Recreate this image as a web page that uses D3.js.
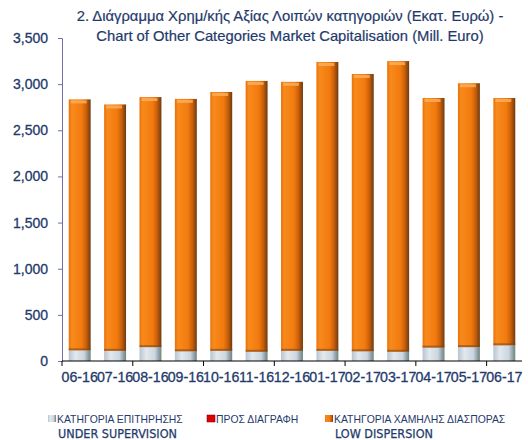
<!DOCTYPE html>
<html><head><meta charset="utf-8">
<script src="https://cdn.jsdelivr.net/npm/d3@7"></script>
<style>body{margin:0;background:#fff}svg{display:block}</style>
</head><body>
<svg id="c" width="528" height="440"></svg>
<script>
const categories = ["06-16","07-16","08-16","09-16","10-16","11-16","12-16","01-17","02-17","03-17","04-17","05-17","06-17"];
const underSupervision = [115,110,150,105,110,100,110,110,105,100,145,150,170];
const toDelete = [0,0,0,0,0,0,0,0,0,0,0,0,0];
const lowDispersion = [2720,2670,2710,2735,2805,2935,2915,3130,3005,3150,2705,2860,2680];
const yTicks = [0,500,1000,1500,2000,2500,3000,3500];
const titleLines = ["2. Διάγραμμα Χρημ/κής Αξίας Λοιπών κατηγοριών (Εκατ. Ευρώ) -","Chart of Other Categories Market Capitalisation (Mill. Euro)"];
const legendItems = [["ΚΑΤΗΓΟΡΙΑ ΕΠΙΤΗΡΗΣΗΣ","UNDER SUPERVISION"],["ΠΡΟΣ ΔΙΑΓΡΑΦΗ",""],["ΚΑΤΗΓΟΡΙΑ ΧΑΜΗΛΗΣ ΔΙΑΣΠΟΡΑΣ","LOW DISPERSION"]];

const svg = d3.select("#c");
const navy = "#1f3a6b";
const font = "Liberation Sans, Arial, sans-serif";
const narrow = "Liberation Sans Narrow, DejaVu Sans Condensed, Arial Narrow, sans-serif";
const x = d3.scaleBand().domain(categories).range([62,522]).paddingInner(0.38).paddingOuter(0.19);
const y = d3.scaleLinear().domain([0,3500]).range([361,38]);

const defs = svg.append("defs");
function grad(id, stops){
  const g = defs.append("linearGradient").attr("id",id).attr("x1","0").attr("x2","1").attr("y1","0").attr("y2","0");
  stops.forEach(s=>g.append("stop").attr("offset",s[0]).attr("stop-color",s[1]));
}
grad("gOr",[[0,"#e8720c"],[0.15,"#f88a1c"],[0.6,"#f27a0e"],[0.8,"#c85f0a"],[1,"#6e3a10"]]);
grad("gGr",[[0,"#b8c4d0"],[0.3,"#e2e8ee"],[0.7,"#ccd6de"],[0.9,"#8a9aa8"],[1,"#6e8a6a"]]);

// title
svg.append("g").selectAll("text").data(titleLines).join("text")
  .attr("x",290).attr("y",(d,i)=>21+i*20).attr("text-anchor","middle")
  .attr("font-family",font).attr("font-size",14.8).attr("fill",navy)
  .attr("stroke",navy).attr("stroke-width",0.2).text(d=>d);

// bars
const stackData = categories.map((c,i)=>({c, s:underSupervision[i], d:toDelete[i], l:lowDispersion[i]}));
const stack = d3.stack().keys(["s","d","l"])(stackData);
const fills = {s:"url(#gGr)", d:"#e00000", l:"url(#gOr)"};
const bw = x.bandwidth();
stack.forEach(layer=>{
  const g = svg.append("g");
  g.selectAll("rect").data(layer).join("rect")
    .attr("x",d=>x(d.data.c)).attr("width",bw)
    .attr("y",d=>y(d[1])).attr("height",d=>Math.max(0,y(d[0])-y(d[1])))
    .attr("fill",fills[layer.key]);
  if(layer.key==="l"){
    g.selectAll("rect.cap").data(layer).join("rect").attr("class","cap")
      .attr("x",d=>x(d.data.c)+2).attr("width",bw-6)
      .attr("y",d=>y(d[1])+1).attr("height",3).attr("fill","#fbb060").attr("opacity",0.8);
    g.selectAll("rect.sep").data(layer).join("rect").attr("class","sep")
      .attr("x",d=>x(d.data.c)).attr("width",bw)
      .attr("y",d=>y(d[0])-2).attr("height",2).attr("fill","#7a4a20").attr("opacity",0.6);
  }
});

// y axis
const ya = svg.append("g").attr("transform","translate(62,0)")
  .call(d3.axisLeft(y).tickValues(yTicks).tickSize(4).tickPadding(8).tickFormat(d3.format(",")));
ya.select(".domain").attr("stroke","#7070a8");
ya.selectAll(".tick line").attr("stroke","#7070a8");
ya.selectAll("text").attr("font-family",font).attr("font-size",14).attr("fill",navy)
  .attr("stroke",navy).attr("stroke-width",0.3).attr("dx",-2);

// x axis
const xa = svg.append("g").attr("transform","translate(0,361)")
  .call(d3.axisBottom(x).tickSize(0).tickPadding(11));
xa.select(".domain").attr("stroke","#000").attr("stroke-width",1.2).attr("d","M62,0H522");
xa.selectAll("text").attr("font-family",font).attr("font-size",14.2).attr("fill",navy)
  .attr("stroke",navy).attr("stroke-width",0.3);
const step = x.step();
svg.append("g").selectAll("line").data(d3.range(0,13,2)).join("line")
  .attr("x1",i=>62+i*step).attr("x2",i=>62+i*step).attr("y1",361).attr("y2",366)
  .attr("stroke","#000");

// legend
const legX = [48,207,325];
const legSw = ["url(#gGr)","#e00000","url(#gOr)"];
const lg = svg.append("g").selectAll("g").data(legendItems).join("g")
  .attr("transform",(d,i)=>`translate(${legX[i]},0)`);
lg.append("rect").attr("x",0).attr("y",415).attr("width",8).attr("height",7)
  .attr("fill",(d,i)=>legSw[i]).attr("stroke",(d,i)=>i===1?"#600":"none").attr("stroke-width",0.5);
lg.append("text").attr("x",9).attr("y",423).attr("font-family",font).attr("font-size",10.4).attr("fill",navy).text(d=>d[0]);
lg.append("text").attr("x",10).attr("y",438).attr("font-family",narrow).attr("font-size",12.5).attr("fill",navy)
  .attr("stroke",navy).attr("stroke-width",0.25).text(d=>d[1]);
</script>
</body></html>
